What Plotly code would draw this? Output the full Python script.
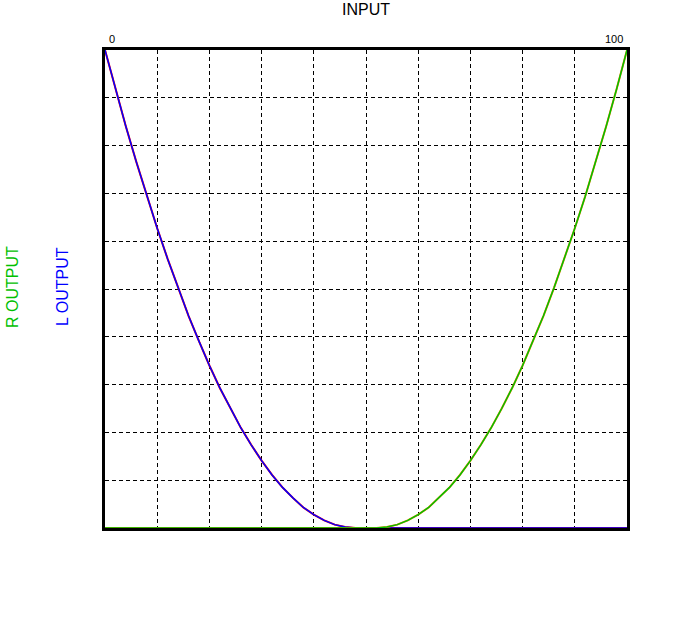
import plotly.graph_objects as go

# input positions (0..100) and output levels
INPUT = [0, 2, 4, 6, 8, 10, 12, 14, 16, 18, 20, 22, 24, 26, 28, 30, 32, 34, 36, 38, 40,
         42, 44, 46, 48, 50, 52, 54, 56, 58, 60, 62, 64, 66, 68, 70, 72, 74, 76, 78, 80,
         82, 84, 86, 88, 90, 92, 94, 96, 98, 100]

L_OUTPUT = [1.000, 0.918, 0.840, 0.766, 0.694, 0.627, 0.563, 0.502, 0.444, 0.391, 0.340,
            0.293, 0.250, 0.210, 0.174, 0.141, 0.111, 0.085, 0.063, 0.043, 0.028,
            0.016, 0.007, 0.002, 0.000, 0.000, 0.000, 0.000, 0.000, 0.000, 0.000,
            0.000, 0.000, 0.000, 0.000, 0.000, 0.000, 0.000, 0.000, 0.000, 0.000,
            0.000, 0.000, 0.000, 0.000, 0.000, 0.000, 0.000, 0.000, 0.000, 0.000]

R_OUTPUT = [0.000, 0.000, 0.000, 0.000, 0.000, 0.000, 0.000, 0.000, 0.000, 0.000, 0.000,
            0.000, 0.000, 0.000, 0.000, 0.000, 0.000, 0.000, 0.000, 0.000, 0.000,
            0.000, 0.000, 0.000, 0.000, 0.000, 0.000, 0.002, 0.007, 0.016, 0.028,
            0.043, 0.063, 0.085, 0.111, 0.141, 0.174, 0.210, 0.250, 0.293, 0.340,
            0.391, 0.444, 0.502, 0.563, 0.627, 0.694, 0.766, 0.840, 0.918, 1.000]

COLORS = {
    'L_back': '#ff0000',
    'L': '#0000ff',
    'R_back': '#ff8000',
    'R': '#00c000',
}
FONT = 'Liberation Sans, Arial, sans-serif'

fig = go.Figure()

# underlying traces are a bit wider so their colour peeks out at the edges
fig.add_trace(go.Scatter(x=INPUT, y=L_OUTPUT, mode='lines',
                         line=dict(color=COLORS['L_back'], width=2.0), showlegend=False))
fig.add_trace(go.Scatter(x=INPUT, y=L_OUTPUT, mode='lines',
                         line=dict(color=COLORS['L'], width=1.5), showlegend=False))
fig.add_trace(go.Scatter(x=INPUT, y=R_OUTPUT, mode='lines',
                         line=dict(color=COLORS['R_back'], width=2.0), showlegend=False))
fig.add_trace(go.Scatter(x=INPUT, y=R_OUTPUT, mode='lines',
                         line=dict(color=COLORS['R'], width=1.5), showlegend=False))

axis_style = dict(
    showline=True, mirror=True, linecolor='black', linewidth=3,
    showgrid=True, gridcolor='black', gridwidth=1, griddash='4px,3px',
    zeroline=False, showticklabels=False, ticks='', layer='below traces',
    fixedrange=True,
)

fig.update_xaxes(range=[0, 100], dtick=10, tick0=0, **axis_style)
fig.update_yaxes(range=[0, 1], dtick=0.1, tick0=0, **axis_style)

# target plot box in window pixels (body margin is removed below)
PLOT_L, PLOT_R, PLOT_T, PLOT_B = 105, 627, 50, 528
W, H = 681, 626

annotations = [
    dict(text='INPUT', x=0.5, y=1, xref='paper', yref='paper', yshift=30,
         xanchor='center', yanchor='bottom', showarrow=False,
         font=dict(size=16, color='black', family=FONT)),
    dict(text='0', x=0, y=1, xref='x', yref='paper', xshift=2, yshift=3,
         xanchor='left', yanchor='bottom', showarrow=False,
         font=dict(size=11, color='black', family=FONT)),
    dict(text='100', x=100, y=1, xref='x', yref='paper', xshift=-2, yshift=3,
         xanchor='right', yanchor='bottom', showarrow=False,
         font=dict(size=11, color='black', family=FONT)),
    dict(text='R OUTPUT', x=12, y=287, xref='paper', yref='paper',
         xanchor='center', yanchor='middle', showarrow=False, textangle=-90,
         font=dict(size=16, color=COLORS['R'], family=FONT)),
    dict(text='L OUTPUT', x=62, y=287, xref='paper', yref='paper',
         xanchor='center', yanchor='middle', showarrow=False, textangle=-90,
         font=dict(size=16, color=COLORS['L'], family=FONT)),
]

# convert pixel positions of the side labels to paper coordinates
for a in annotations[3:]:
    a['x'] = (a['x'] - PLOT_L) / (PLOT_R - PLOT_L)
    a['y'] = (PLOT_B - a['y']) / (PLOT_B - PLOT_T)

fig.update_layout(
    width=W, height=H,
    margin=dict(l=PLOT_L, r=W - PLOT_R, t=PLOT_T, b=H - PLOT_B),
    paper_bgcolor='white', plot_bgcolor='white',
    font=dict(family=FONT, color='black'),
    annotations=annotations,
    showlegend=False,
)

fig.write_html("out.html", config={'displayModeBar': False},
               post_script="document.body.style.margin='0';")
